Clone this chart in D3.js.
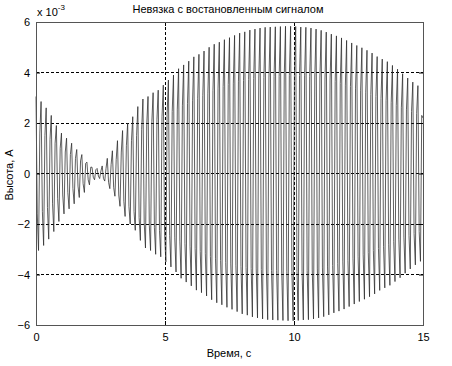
<!DOCTYPE html>
<html>
<head>
<meta charset="utf-8">
<script src="https://cdn.jsdelivr.net/npm/d3@7"></script>
<style>
  body { margin: 0; background: #fff; }
  text { font-family: "Liberation Sans", Arial, sans-serif; fill: #000; }
</style>
</head>
<body>
<svg id="chart" width="452" height="366"></svg>
<script>
// Datos: amplitudes por ciclo (x 10^-3)
let outerAmp = [3.05, 2.85, 2.6, 2.3, 1.9, 1.6, 1.4, 1.2, 0.95, 0.75,
    0.45, 0.25, 0.2, 0.3, 0.6, 0.9, 1.3, 1.7, 2.0, 2.25,
    2.65, 2.95, 3.05, 3.2, 3.3, 3.5, 3.7, 3.9, 4.15, 4.3,
    4.45, 4.62, 4.72, 4.85, 5.0, 5.12, 5.2, 5.3, 5.38, 5.47,
    5.56, 5.61, 5.68, 5.72, 5.76, 5.79, 5.8, 5.81, 5.82, 5.83,
    5.83, 5.82, 5.8, 5.79, 5.76, 5.72, 5.67, 5.6, 5.52, 5.45,
    5.37, 5.27, 5.17, 5.07, 4.98, 4.88, 4.77, 4.63, 4.53, 4.43,
    4.28, 4.13, 3.95, 3.78, 3.62, 3.48];
let innerAmp = [1.6, 1.5, 1.35, 1.2, 1.0, 0.85, 0.75, 0.6, 0.5, 0.4,
    0.25, 0.15, 0.1, 0.2, 0.35, 0.55, 0.85, 1.1, 1.3, 1.5,
    1.75, 1.95, 2.05, 2.15, 2.25, 2.35, 2.45, 2.55, 2.68, 2.78,
    2.88, 2.98, 3.08, 3.18, 3.28, 3.38, 3.45, 3.52, 3.58, 3.63,
    3.68, 3.72, 3.76, 3.78, 3.8, 3.82, 3.84, 3.85, 3.86, 3.87,
    3.88, 3.88, 3.87, 3.85, 3.82, 3.78, 3.74, 3.7, 3.64, 3.57,
    3.5, 3.44, 3.38, 3.3, 3.22, 3.13, 3.05, 2.97, 2.88, 2.8,
    2.7, 2.6, 2.52, 2.45, 2.38, 2.3];
let endValue = 2.2;
let tEnd = 15;

let xTicks = [0, 5, 10, 15];
let yTicks = [-6, -4, -2, 0, 2, 4, 6];
let xGrid = [5, 10];
let yGrid = [-4, -2, 0, 2, 4];

// cada ciclo: +exterior, -interior, -exterior, +interior
let values = [];
outerAmp.forEach(function(o, k) {
    let i = innerAmp[k];
    values.push(o, -i, -o, i);
});
values.push(endValue);
let step = tEnd / (values.length - 1);
let signal = values.map(function(v, n) { return {t: n * step, v: v}; });

let margin = {left: 36, right: 29, top: 22, bottom: 41};
let width = 452 - margin.left - margin.right;
let height = 366 - margin.top - margin.bottom;

let svg = d3.select("#chart");
let g = svg.append("g").attr("transform", "translate(" + margin.left + "," + margin.top + ")");

let x = d3.scaleLinear().domain([0, 15]).range([0, width]);
let y = d3.scaleLinear().domain([-6, 6]).range([height, 0]);

// rejilla
g.selectAll(".gx").data(xGrid).enter().append("line")
    .attr("x1", d => x(d)).attr("x2", d => x(d))
    .attr("y1", 0).attr("y2", height)
    .attr("stroke", "#000").attr("stroke-width", 1)
    .attr("stroke-dasharray", "3,2")
    .attr("shape-rendering", "crispEdges");
g.selectAll(".gy").data(yGrid).enter().append("line")
    .attr("x1", 0).attr("x2", width)
    .attr("y1", d => y(d)).attr("y2", d => y(d))
    .attr("stroke", "#000").attr("stroke-width", 1)
    .attr("stroke-dasharray", "3,2")
    .attr("shape-rendering", "crispEdges");

// señal
let line = d3.line().x(d => x(d.t)).y(d => y(d.v));
g.append("path")
    .datum(signal)
    .attr("d", line)
    .attr("fill", "none")
    .attr("stroke", "#2a2a2a")
    .attr("stroke-width", 0.75);

// ejes
let xAxis = d3.axisBottom(x).tickValues(xTicks).tickSize(-4).tickPadding(8);
let yAxis = d3.axisLeft(y).tickValues(yTicks).tickSize(-4).tickPadding(6);

g.append("g").attr("transform", "translate(0," + height + ")").call(xAxis)
    .call(s => s.select(".domain").remove())
    .selectAll("text").attr("font-size", 11).attr("font-family", "Liberation Sans, Arial, sans-serif");
g.append("g").call(yAxis)
    .call(s => s.select(".domain").remove())
    .selectAll("text").attr("font-size", 11).attr("font-family", "Liberation Sans, Arial, sans-serif");

// ticks arriba y a la derecha
g.append("g").call(d3.axisTop(x).tickValues(xTicks).tickSize(-4).tickFormat(""))
    .call(s => s.select(".domain").remove());
g.append("g").attr("transform", "translate(" + width + ",0)")
    .call(d3.axisRight(y).tickValues(yTicks).tickSize(-4).tickFormat(""))
    .call(s => s.select(".domain").remove());

// marco
g.append("rect")
    .attr("x", 0).attr("y", 0).attr("width", width).attr("height", height)
    .attr("fill", "none").attr("stroke", "#555").attr("stroke-width", 1)
    .attr("shape-rendering", "crispEdges");

// textos
svg.append("text")
    .attr("x", 228).attr("y", 13)
    .attr("text-anchor", "middle").attr("font-size", 11)
    .text("Невязка с востановленным сигналом");

let mult = svg.append("text").attr("x", 37).attr("y", 16).attr("font-size", 11);
mult.append("tspan").text("x 10");
mult.append("tspan").attr("dy", -6).attr("font-size", 8).text("-3");

svg.append("text")
    .attr("x", 229).attr("y", 357)
    .attr("text-anchor", "middle").attr("font-size", 11)
    .text("Время, с");

svg.append("text")
    .attr("transform", "translate(13,175) rotate(-90)")
    .attr("text-anchor", "middle").attr("font-size", 11)
    .text("Высота, А");
</script>
</body>
</html>
